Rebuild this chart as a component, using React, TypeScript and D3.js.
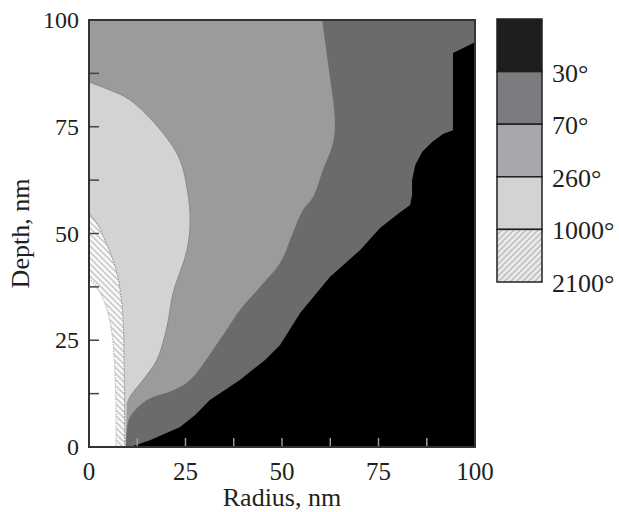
import React from "react";
import * as d3 from "d3";

// isotherm boundaries, [radius nm, depth nm]
const iso30: [number, number][] = [
  [10.6, 0], [15.8, 1.6], [23.6, 4.7], [27.5, 7.5], [31.3, 11.0], [39.1, 15.7],
  [45.6, 20.4], [49.5, 23.9], [54.7, 31.4], [62.4, 39.8], [70.2, 46.1],
  [75.4, 51.3], [80.6, 55.0], [83.2, 56.7], [83.7, 59.0], [83.7, 62.5],
  [84.5, 66.0], [86.3, 69.1], [88.9, 71.4], [91.7, 73.3], [94.3, 74.2],
  [94.3, 92.3], [100, 94.8],
];
const iso70: [number, number][] = [
  [9.8, 4], [10.6, 7], [15, 11], [21.8, 13.3], [26.2, 15.7], [33.9, 25.1],
  [39.1, 32.1], [44.3, 37.5], [49.5, 43.1], [52.8, 50.1], [55.4, 55.5],
  [58, 58.5], [60.6, 64.9], [63.2, 71.2], [63.7, 76.6], [62.4, 86.7], [60.4, 100],
];
const iso260: [number, number][] = [
  [0, 85.5], [5.4, 83.6], [10.6, 81.3], [19.2, 73.5], [23.6, 67.2], [25.6, 59.5],
  [26.2, 53.2], [25.4, 46.1], [21.8, 36.1], [20.2, 28.1], [17.6, 20.4],
  [14, 15.7], [10.6, 11.7], [9.8, 9.8],
];
const iso1000: [number, number][] = [
  [0, 54.8], [2.3, 52], [4.1, 48.5], [6.2, 43.8], [7.5, 39.8], [8.3, 35.1],
  [8.8, 30.4], [9.1, 20.4], [9.3, 0],
];
const iso2100: [number, number][] = [
  [0, 39.6], [2.8, 36.3], [4.7, 32.1], [6, 26.2], [6.7, 18], [7, 8.7], [7, 0],
];

const legendLabels = ["30°", "70°", "260°", "1000°", "2100°"];
const xTickValues = [0, 25, 50, 75, 100];
const yTickValues = [0, 25, 50, 75, 100];

const colors = ["#1f1d1e", "#7a7c7f", "#a6a8ab", "#d1d3d4"];
const plotColors = { c30: "#6b6b6b", c70: "#9b9b9b", c260: "#d3d3d3" };
const font = "'Liberation Serif', 'Times New Roman', serif";

const W = 619;
const H = 512;
const x = d3.scaleLinear().domain([0, 100]).range([89, 475]);
const y = d3.scaleLinear().domain([0, 100]).range([447, 20]);

const smooth = d3
  .line<[number, number]>()
  .x((d) => x(d[0]))
  .y((d) => y(d[1]))
  .curve(d3.curveCatmullRom.alpha(0.5));
const straight = d3
  .line<[number, number]>()
  .x((d) => x(d[0]))
  .y((d) => y(d[1]));

// boundary curve + closing corners along the frame
const region = (pts: [number, number][], corners: [number, number][], curved = true) =>
  (curved ? smooth(pts) : straight(pts)) +
  corners.map((c) => `L${x(c[0])},${y(c[1])}`).join("") +
  "Z";

const App = () => {
  const minor = d3.range(12.5, 100, 12.5);
  const legendY = d3.scaleLinear().domain([0, 5]).range([19, 282]);

  return (
    <svg
      width={W}
      height={H}
      style={{ position: "absolute", left: 0, top: 0, background: "#fff" }}
      fontFamily={font}
    >
      <defs>
        <pattern id="hatchPlot" patternUnits="userSpaceOnUse" width={6} height={6}>
          <rect width={6} height={6} fill="#fafafa" />
          <path d="M-1,-1 L7,7 M-1,5 L1,7 M5,-1 L7,1" stroke="#cbcbcb" strokeWidth={1.6} />
        </pattern>
        <pattern id="hatchLegend" patternUnits="userSpaceOnUse" width={6} height={6}>
          <rect width={6} height={6} fill="#ebebeb" />
          <path d="M-1,7 L7,-1 M-1,1 L1,-1 M5,7 L7,5" stroke="#c2c2c2" strokeWidth={1.6} />
        </pattern>
        <clipPath id="plotClip">
          <rect x={x(0)} y={y(100)} width={x(100) - x(0)} height={y(0) - y(100)} />
        </clipPath>
      </defs>

      <g clipPath="url(#plotClip)">
        <rect x={x(0)} y={y(100)} width={x(100) - x(0)} height={y(0) - y(100)} fill="#000" />
        <path d={region(iso30, [[100, 100], [0, 100], [0, 0]], false)} fill={plotColors.c30} />
        <path d={region(iso70, [[0, 100], [0, 0], [9.5, 0]])} fill={plotColors.c70} />
        <path d={region(iso260, [[9.5, 0], [0, 0]])} fill={plotColors.c260} />
        <path d={smooth(iso260) || ""} fill="none" stroke="#8a8a8a" strokeWidth={1} />
        <path d={region(iso1000, [[0, 0]])} fill="url(#hatchPlot)" />
        <path d={region(iso2100, [[0, 0]])} fill="#fff" />
        <path d={smooth(iso1000) || ""} fill="none" stroke="#a0a0a0" strokeWidth={1.2} strokeDasharray="2,1" />
        <path d={smooth(iso2100) || ""} fill="none" stroke="#c4c4c4" strokeWidth={1.2} strokeDasharray="2,1" />

        {minor.map((v) => (
          <line key={"yt" + v} x1={x(0)} x2={x(0) + 10} y1={y(v)} y2={y(v)} stroke="#444" strokeWidth={1.5} />
        ))}
        {minor.map((v) => (
          <line key={"xt" + v} x1={x(v)} x2={x(v)} y1={y(0)} y2={y(0) - 9} stroke="#9a9a9a" strokeWidth={1.5} />
        ))}
      </g>

      <rect
        x={x(0)}
        y={y(100)}
        width={x(100) - x(0)}
        height={y(0) - y(100)}
        fill="none"
        stroke="#333"
        strokeWidth={2}
      />

      {yTickValues.map((v) => (
        <text key={"yl" + v} x={79} y={y(v) + 8} textAnchor="end" fontSize={24} fill="#231f20">
          {v}
        </text>
      ))}
      {xTickValues.map((v) => (
        <text key={"xl" + v} x={x(v)} y={480} textAnchor="middle" fontSize={25} fill="#231f20">
          {v}
        </text>
      ))}
      <text x={282} y={506} textAnchor="middle" fontSize={26} fill="#231f20">
        Radius, nm
      </text>
      <text
        transform={`translate(29,${(y(0) + y(100)) / 2}) rotate(-90)`}
        textAnchor="middle"
        fontSize={26}
        fill="#231f20"
      >
        Depth, nm
      </text>

      {/* legend */}
      {d3.range(5).map((i) => (
        <rect
          key={"lg" + i}
          x={497}
          y={legendY(i)}
          width={45}
          height={legendY(i + 1) - legendY(i)}
          fill={i < 4 ? colors[i] : "url(#hatchLegend)"}
          stroke="#231f20"
          strokeWidth={1.5}
        />
      ))}
      {legendLabels.map((t, i) => (
        <text key={t} x={552} y={legendY(i + 1) + 10} fontSize={26} fill="#231f20">
          {t}
        </text>
      ))}
    </svg>
  );
};

export default App;
